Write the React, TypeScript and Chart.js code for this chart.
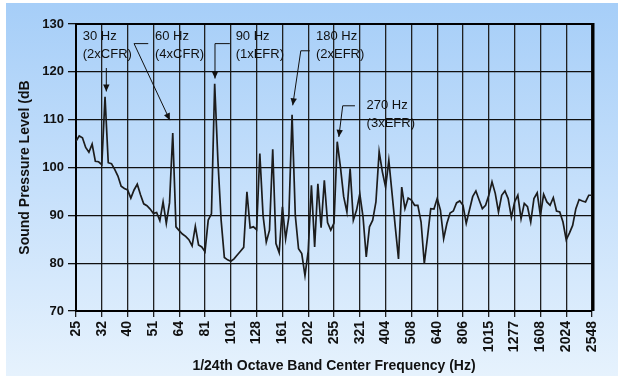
import React, { useEffect, useRef } from "react";
import { Chart, registerables } from "chart.js";

Chart.register(...registerables);

// 1/3-octave tick labels (every 8th 1/24-octave band)
const tickLabels = [
  "25", "32", "40", "51", "64", "81", "101", "128", "161", "202", "255",
  "321", "404", "508", "640", "806", "1015", "1277", "1608", "2024", "2548",
];
const bandsPerLabel = 8;

// Sound pressure level (dB) per 1/24th octave band, split by range
const splBands0to39 = [
  105.5, 106.6, 106.2, 104.2, 103.2, 104.9, 101.3, 101.2, 100.6, 114.8,
  101.0, 100.8, 99.6, 98.2, 96.1, 95.6, 95.3, 93.6, 95.3, 96.5,
  94.3, 92.4, 92.0, 91.3, 90.4, 90.6, 88.9, 92.8, 88.3, 92.6,
  107.2, 87.6, 86.8, 86.1, 85.6, 84.9, 83.6, 87.7, 83.8, 83.4,
];
const splBands40to79 = [
  82.4, 89.0, 90.3, 117.5, 101.5, 89.0, 81.2, 80.7, 80.4, 80.9,
  81.7, 82.5, 83.3, 94.9, 87.4, 87.6, 87.0, 102.9, 90.0, 84.4,
  86.9, 103.8, 84.1, 82.2, 91.8, 85.1, 89.7, 111.0, 90.0, 83.0,
  82.0, 77.4, 82.5, 96.3, 83.4, 96.6, 87.4, 97.3, 88.5, 86.9,
];
const splBands80to119 = [
  88.4, 105.4, 100.1, 93.9, 90.7, 99.8, 89.0, 91.1, 94.5, 89.7,
  81.3, 87.6, 89.0, 92.8, 103.3, 99.1, 95.9, 101.5, 94.6, 87.6,
  80.9, 95.9, 91.4, 93.6, 93.2, 92.1, 92.1, 88.6, 79.9, 85.5,
  91.4, 91.3, 93.5, 91.1, 85.1, 88.3, 90.5, 90.9, 92.6, 93.0,
];
const splBands120to160 = [
  92.1, 88.3, 91.1, 93.9, 95.1, 93.2, 91.4, 92.1, 94.2, 97.0,
  94.6, 90.7, 94.2, 95.1, 93.5, 89.6, 92.8, 94.2, 89.3, 92.5,
  91.8, 88.6, 93.5, 94.7, 90.0, 94.4, 92.8, 92.1, 93.7, 90.9,
  90.7, 88.6, 84.9, 86.3, 87.9, 91.4, 93.3, 93.0, 92.8, 94.2,
  94.2,
];
const splValues = [
  ...splBands0to39,
  ...splBands40to79,
  ...splBands80to119,
  ...splBands120to160,
];

// Peak call-outs: text lines, text anchor (band index, dB), arrow path ending at tip
const peakNoteTexts = [
  ["30 Hz", "(2xCFR)"],
  ["60 Hz", "(4xCFR)"],
  ["90 Hz", "(1xEFR)"],
  ["180 Hz", "(2xEFR)"],
  ["270 Hz", "(3xEFR)"],
];
const peakNoteAnchors = [
  { tx: 2.1, ty: 127.3, path: [[9.4, 120.8], [9.4, 115.9]] },
  { tx: 24.5, ty: 127.3, path: [[22.4, 125.9], [18.0, 125.9], [29.1, 109.9]] },
  { tx: 49.5, ty: 127.3, path: [[47.7, 125.9], [43.1, 125.9], [43.1, 118.6]] },
  { tx: 74.4, ty: 127.3, path: [[72.5, 124.4], [69.7, 124.4], [67.2, 113.0]] },
  { tx: 90.1, ty: 112.9, path: [[86.5, 112.9], [82.7, 112.9], [81.5, 106.4]] },
];

const backgroundPlugin = {
  id: "bgGradient",
  beforeDraw(chart: any) {
    const { ctx, width, height } = chart;
    ctx.save();
    ctx.fillStyle = "#ffffff";
    ctx.fillRect(0, 0, width, height);
    const g = ctx.createLinearGradient(0, 3, 0, height - 2);
    g.addColorStop(0, "#a6cef8");
    g.addColorStop(0.5, "#c6e0fb");
    g.addColorStop(1, "#e6f2fd");
    ctx.fillStyle = g;
    ctx.fillRect(6, 3, width - 10, height - 5);
    ctx.restore();
  },
};

const framePlugin = {
  id: "plotFrame",
  beforeDatasetsDraw(chart: any) {
    const { ctx, chartArea } = chart;
    const { left, right, top, bottom } = chartArea;
    ctx.save();
    ctx.strokeStyle = "#000";
    ctx.lineWidth = 2;
    ctx.beginPath();
    ctx.moveTo(left, top);
    ctx.lineTo(right, top);
    ctx.stroke();
    ctx.lineWidth = 3;
    ctx.beginPath();
    ctx.moveTo(right + 1, top - 1);
    ctx.lineTo(right + 1, bottom);
    ctx.stroke();
    ctx.restore();
  },
};

const notesPlugin = {
  id: "peakNotes",
  afterDatasetsDraw(chart: any) {
    const { ctx, scales } = chart;
    const x = scales.x;
    const y = scales.y;
    ctx.save();
    ctx.font = '13px "Liberation Sans", Arial, sans-serif';
    ctx.fillStyle = "#111";
    ctx.textBaseline = "middle";
    ctx.textAlign = "left";
    peakNoteAnchors.forEach((a, n) => {
      const tx = x.getPixelForValue(a.tx);
      const ty = y.getPixelForValue(a.ty);
      peakNoteTexts[n].forEach((t, k) => ctx.fillText(t, tx, ty + k * 17.5));
      const pts = a.path.map(([px, py]) => [x.getPixelForValue(px), y.getPixelForValue(py)]);
      ctx.strokeStyle = "#111";
      ctx.lineWidth = 1;
      ctx.beginPath();
      ctx.moveTo(pts[0][0], pts[0][1]);
      for (let i = 1; i < pts.length; i++) ctx.lineTo(pts[i][0], pts[i][1]);
      ctx.stroke();
      const [ex, ey] = pts[pts.length - 1];
      const [sx, sy] = pts[pts.length - 2];
      const ang = Math.atan2(ey - sy, ex - sx);
      const len = 7;
      const hw = 3.2;
      ctx.beginPath();
      ctx.moveTo(ex, ey);
      ctx.lineTo(
        ex - len * Math.cos(ang) + hw * Math.sin(ang),
        ey - len * Math.sin(ang) - hw * Math.cos(ang)
      );
      ctx.lineTo(
        ex - len * Math.cos(ang) - hw * Math.sin(ang),
        ey - len * Math.sin(ang) + hw * Math.cos(ang)
      );
      ctx.closePath();
      ctx.fillStyle = "#111";
      ctx.fill();
    });
    ctx.restore();
  },
};

export default function App() {
  const canvasRef = useRef<HTMLCanvasElement | null>(null);

  useEffect(() => {
    if (!canvasRef.current) return;
    const data = splValues.map((v, i) => ({ x: i, y: v }));
    const chart = new Chart(canvasRef.current, {
      type: "line",
      data: {
        datasets: [
          {
            data,
            borderColor: "#1c1c1c",
            borderWidth: 1.7,
            pointRadius: 0,
            tension: 0,
            fill: false,
          },
        ],
      },
      options: {
        responsive: false,
        animation: false,
        devicePixelRatio: 1,
        layout: { padding: { left: 0, top: 24, right: 30, bottom: 0 } },
        plugins: {
          legend: { display: false },
          tooltip: { enabled: false },
        },
        scales: {
          x: {
            type: "linear",
            min: 0,
            max: (tickLabels.length - 1) * bandsPerLabel,
            afterFit: (s: any) => {
              s.height = 67;
            },
            ticks: {
              stepSize: bandsPerLabel,
              autoSkip: false,
              maxRotation: 90,
              minRotation: 90,
              padding: 4,
              color: "#111",
              font: { family: '"Liberation Sans", Arial, sans-serif', size: 14, weight: "bold" },
              callback: (v: any) => {
                const idx = Math.round(Number(v) / bandsPerLabel);
                return tickLabels[idx] ?? "";
              },
            },
            grid: { color: "#202020", lineWidth: 1.3, tickLength: 6 },
            border: { color: "#000", width: 2 },
            title: {
              display: true,
              text: "1/24th Octave Band Center Frequency (Hz)",
              color: "#111",
              font: { family: '"Liberation Sans", Arial, sans-serif', size: 14, weight: "bold" },
              padding: { top: 2, bottom: 3 },
            },
          },
          y: {
            min: 70,
            max: 130,
            afterFit: (s: any) => {
              s.width = 76;
            },
            ticks: {
              stepSize: 10,
              padding: 4,
              color: "#111",
              font: { family: '"Liberation Sans", Arial, sans-serif', size: 13, weight: "bold" },
            },
            grid: { color: "#101010", lineWidth: 1.3, tickLength: 8 },
            border: { color: "#000", width: 2 },
            title: {
              display: true,
              text: "Sound Pressure Level (dB",
              color: "#111",
              font: { family: '"Liberation Sans", Arial, sans-serif', size: 14, weight: "bold" },
              padding: { top: 17, bottom: 0 },
            },
          },
        },
      },
      plugins: [backgroundPlugin, framePlugin, notesPlugin],
    } as any);
    return () => chart.destroy();
  }, []);

  return (
    <div style={{ position: "fixed", left: 0, top: 0, width: 622, height: 378 }}>
      <canvas ref={canvasRef} width={622} height={378} style={{ width: 622, height: 378, display: "block" }} />
    </div>
  );
}
